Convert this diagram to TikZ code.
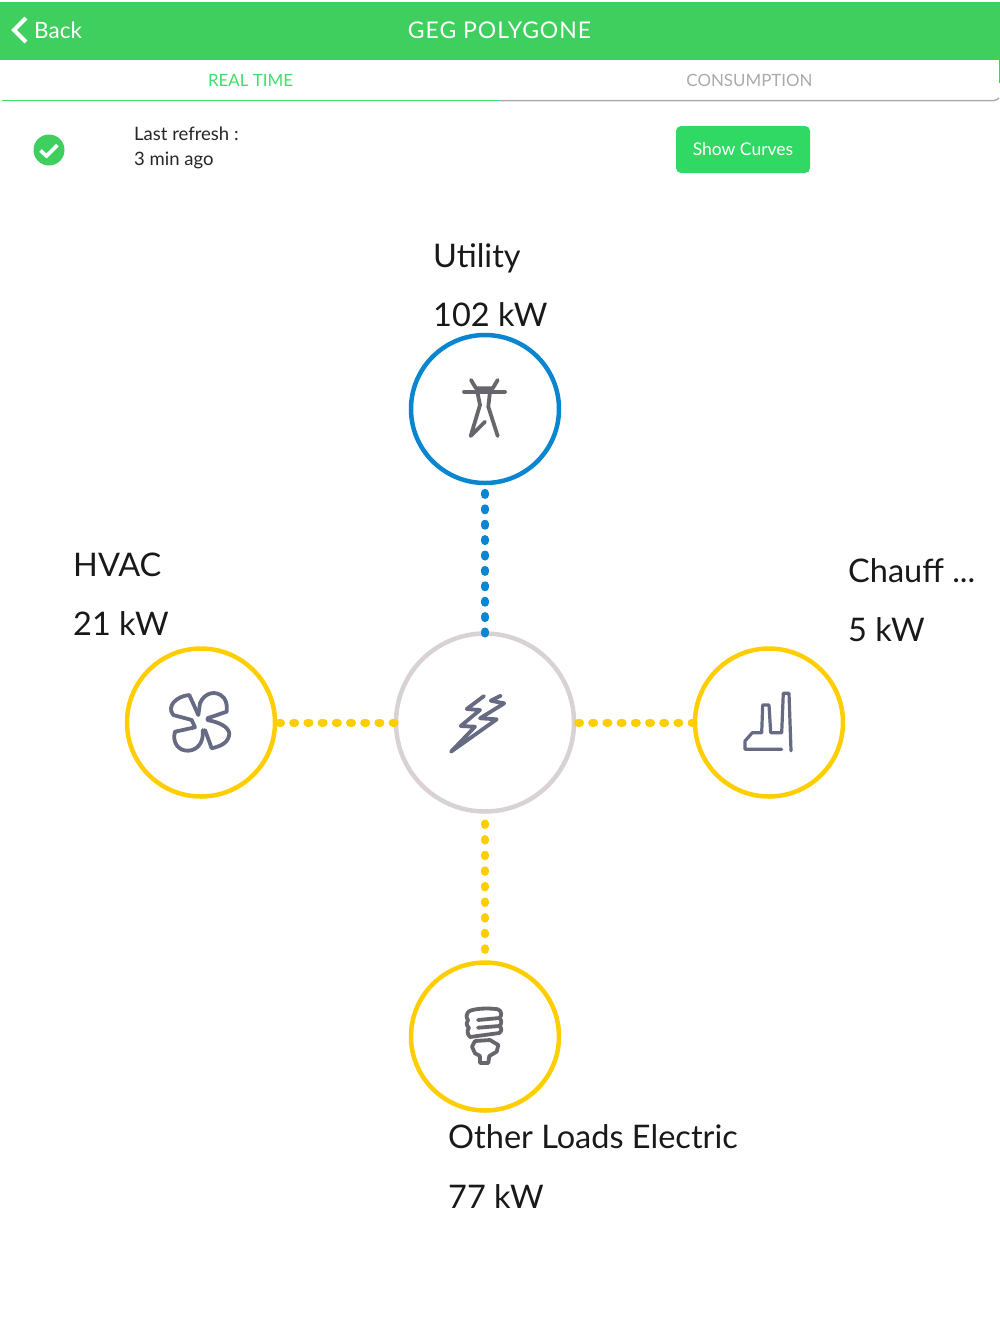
\documentclass[tikz,border=0pt]{standalone}
\usepackage{fontspec}
\setmainfont{Lato}
\definecolor{barGreen}{HTML}{3ECF5E}
\definecolor{btnGreen}{HTML}{30D964}
\definecolor{tabGreen}{HTML}{3FDD6B}
\definecolor{tabGray}{HTML}{ABABAB}
\definecolor{utilBlue}{HTML}{0A86D0}
\definecolor{loadYellow}{HTML}{FFCE00}
\definecolor{hubGray}{HTML}{D8D2D4}
\definecolor{iconSlate}{HTML}{666A82}
\definecolor{iconGray}{HTML}{66666C}
\tikzset{
  ring/.style={circle, draw, line width=4.5pt, minimum size=148pt, inner sep=0pt, outer sep=0pt},
  feed/.style={line width=8pt, line cap=round},
  icon/.style={line width=3.8pt, line cap=round, line join=round},
  value/.style={anchor=base west, inner sep=0pt, text=black!90, font=\fontsize{32.5}{36}\selectfont},
  small/.style={anchor=base west, inner sep=0pt, text=black!85, font=\fontsize{18.5}{20}\selectfont},
  tab/.style={inner sep=0pt, font=\fontsize{16.9}{20}\selectfont}
}

\begin{document}
\begin{tikzpicture}[x=1pt, y=-1pt]

\useasboundingbox (0, 0) rectangle (1000, 1334);

\fill[barGreen] (0, 2) rectangle (1000, 59.5);
\draw[barGreen, line width=1.5pt] (999.3, 59) -- (999.3, 83);
\draw[white, line width=4pt, line join=miter] (26, 18) -- (14, 30) -- (26, 42);
\node (backlabel) at (34, 38) [anchor=base west, inner sep=0pt, text=white, font=\fontsize{22.5}{26}\selectfont] {Back};
\node (titlelabel) at (499.5, 30) [inner sep=0pt, text=white, font=\fontsize{23}{26}\selectfont] {\addfontfeature{LetterSpace=4}GEG POLYGONE};

\node (realtab) at (250.5, 80) [tab, text=tabGreen] {REAL TIME};
\node (consumptab) at (749.5, 80) [tab, text=tabGray] {CONSUMPTION};
\draw[tabGray, line width=1.5pt, rounded corners=2pt] (499, 100.5) -- (996, 100.5) -- (999, 98);
\draw[tabGreen, line width=1.5pt] (2, 100.5) -- (499, 100.5);

\fill[barGreen] (49, 150) circle (15.5);
\draw[white, line width=3.6pt] (40.5, 150.5) -- (46.5, 156) -- (57.5, 145);
\node (refreshlabel) at (134, 140) [small] {Last refresh :};
\node (agolabel) at (134, 165) [small] {3 min ago};

\node (curvesbtn) at (743, 149.5) [fill=btnGreen, rounded corners=5pt, minimum width=134pt, minimum height=47pt, inner sep=0pt, text=white, font=\fontsize{17.5}{20}\selectfont] {Show Curves};

\node (utilitylabel) at (433, 267) [value] {Utility};
\node (utilitykw) at (433, 326) [value] {102 kW};
\node (hvaclabel) at (73, 576) [value] {HVAC};
\node (hvackw) at (73, 635) [value] {21 kW};
\node (chaufflabel) at (848, 582) [value] {Chauff ...};
\node (chauffkw) at (848, 641) [value] {5 kW};
\node (otherlabel) at (448, 1148) [value] {Other Loads Electric};
\node (otherkw) at (448, 1208) [value] {77 kW};

\node (utility) at (485, 409) [ring, draw=utilBlue] {};
\node (hvac) at (201, 722.5) [ring, draw=loadYellow] {};
\node (chauff) at (769, 722.5) [ring, draw=loadYellow] {};
\node (other) at (485, 1036.5) [ring, draw=loadYellow] {};
\node (hub) at (485, 722.5) [ring, draw=hubGray, minimum size=178pt] {};

\draw[feed, utilBlue, dash pattern=on 2pt off 13.4pt] (hub) -- (utility);
\draw[feed, loadYellow, dash pattern=on 2pt off 12.2pt, dash phase=-4pt] (hvac) -- (hub);
\draw[feed, loadYellow, dash pattern=on 2pt off 12.2pt, dash phase=-4pt] (hub) -- (chauff);
\draw[feed, loadYellow, dash pattern=on 1.5pt off 14.1pt, dash phase=-12pt] (hub) -- (other);

\draw[icon, iconGray] (464, 391.7) -- (505, 391.7);
\draw[icon, iconGray] (471, 380) -- (476, 388.3) -- (492.7, 388.3) -- (497.7, 380);
\draw[icon, iconGray] (477.3, 391.7) -- (480, 405) -- (470.7, 436) -- (485, 421.7);
\draw[icon, iconGray] (490, 391.7) -- (488.3, 406.7) -- (497.7, 436);

\draw[icon, iconSlate] (198.3, 715) -- (189.3, 695) .. controls (177, 696) and (166, 706) .. (173.3, 715) -- (191.7, 720) -- (195, 727.3)
  -- (175, 731.7) .. controls (172, 742) and (178, 751) .. (188.3, 750.7) .. controls (198, 750) and (204, 742) .. (202.7, 730);
\draw[icon, iconSlate] (198.3, 715) -- (200, 703.3) .. controls (204, 693) and (216, 689) .. (224, 698) .. controls (227, 702) and (227, 707) .. (226.7, 711.7) -- (207.3, 718.3);
\draw[icon, iconSlate] (205, 730) -- (211.7, 748.3) .. controls (222, 746) and (229, 742) .. (229.3, 733.3) .. controls (228, 726) and (218, 722) .. (207.3, 720);

\draw[icon, iconSlate] (484, 696) -- (466.7, 709) -- (480, 710) -- (460.7, 726) -- (475, 726.7) -- (451, 751.7) -- (496.7, 719.3) -- (480, 718.3) -- (504.3, 703.3) -- (490.7, 700.7) -- (500.7, 695.7);

\draw[icon, iconSlate, line width=3.2pt] (781.7, 749.3) -- (745, 749.3) -- (745, 741) -- (752.3, 732.7) -- (761.7, 732.7) -- (762.7, 705) -- (769, 705) -- (770.7, 732.7) -- (781.7, 732.7) -- (783.3, 693.3) -- (789, 693.3) -- (791, 750.7);

\draw[icon, iconGray] (468.3, 1011.7) .. controls (474, 1008) and (490, 1008) .. (498, 1009.3) .. controls (502, 1011) and (502, 1016) .. (499.3, 1018) .. controls (502, 1020) and (502, 1024) .. (499.3, 1026) .. controls (502, 1028) and (502, 1031) .. (499.3, 1033) -- (470, 1037)
  .. controls (467, 1034) and (467, 1030) .. (469, 1028) .. controls (466, 1025) and (466, 1022) .. (468, 1020) .. controls (466, 1017) and (466, 1014) .. (468.3, 1011.7);
\draw[icon, iconGray] (478, 1020) -- (499.3, 1018);
\draw[icon, iconGray] (478, 1027.7) -- (499.3, 1026);
\draw[icon, iconGray] (475, 1041) -- (472, 1046.7) -- (475, 1053.3) -- (480, 1056) -- (480, 1063) -- (488.3, 1063) -- (489.3, 1056) -- (496.7, 1051.7) -- (498.3, 1045) -- (490, 1040) -- (475, 1041);

\end{tikzpicture}
\end{document}
